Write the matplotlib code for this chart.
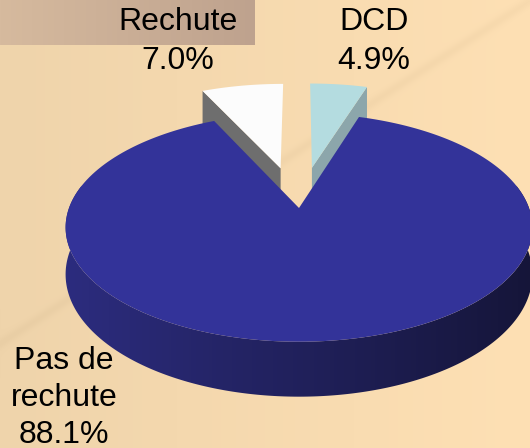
import numpy as np
import matplotlib.pyplot as plt
from matplotlib.patches import Polygon

# slices in counter-clockwise order, starting at the DCD slice
labels = ["DCD\n4.9%", "Rechute\n7.0%", "Pas de\nrechute\n88.1%"]
values = [4.9, 7.0, 88.1]
explode = [0.39, 0.39, 0.0]
top_colors = ["#B4DCE0", "#FCFCFC", "#333399"]
side_colors = ["#8CA6AB", "#6E6E6E", "#1E1E58"]

W, H = 530, 448
cx, cy = 299, 208
a, b, k = 230, 111, 0.17
depth = 45.6


def proj(u, v, h=0.0):
    d = 1 + k * v
    return cx + a * u / d, cy - b * v / d + depth * h / d


fig = plt.figure(figsize=(W / 100, H / 100), dpi=100)
ax = fig.add_axes([0, 0, 1, 1])
ax.set_xlim(0, W)
ax.set_ylim(H, 0)
ax.axis("off")

# background
xx, yy = np.meshgrid(np.arange(W), np.arange(H))
t = xx / W
bg = np.zeros((H, W, 3))
bg[..., 0] = 239 + 15 * t
bg[..., 1] = 212 + 12 * t
bg[..., 2] = 171 + 9 * t
band = (xx < 255) & (yy < 45)
s = xx[band] / 255
bg[band, 0] = 214 - 24 * s
bg[band, 1] = 186 - 24 * s
bg[band, 2] = 158 - 16 * s
dist = (xx - 530) * 110 + (yy - 0) * 170
dist = dist / np.hypot(110, 170)
streak = np.exp(-(dist / 5.0) ** 2) * 6
bg -= streak[..., None]
ax.imshow(bg.astype(np.uint8), extent=(0, W, H, 0), zorder=0)

# horizontal shading for the curved side of the pie
c1 = np.array([44, 44, 126]) / 255
c2 = np.array([21, 21, 56]) / 255
g = np.clip((np.arange(W) - 68) / 470, 0, 1)
shade = (c1[None, :] + (c2 - c1)[None, :] * g[:, None])[None, :, :]

frac = np.array(values) / sum(values)
start = 90 - frac[0] * 360
bounds = start + np.concatenate([[0], np.cumsum(frac) * 360])

for i in range(len(values)):
    t1, t2 = np.radians(bounds[i]), np.radians(bounds[i + 1])
    m = (t1 + t2) / 2
    ou, ov = explode[i] * np.cos(m), explode[i] * np.sin(m)
    z = 2 + i * 3

    # radial side faces that face the viewer
    for th, nrm in [(t1, t1 - np.pi / 2), (t2, t2 + np.pi / 2)]:
        if np.sin(nrm) < 0:
            p1 = proj(ou, ov)
            p2 = proj(ou + np.cos(th), ov + np.sin(th))
            p3 = proj(ou + np.cos(th), ov + np.sin(th), 1)
            p4 = proj(ou, ov, 1)
            ax.add_patch(Polygon([p1, p2, p3, p4], closed=True,
                                 facecolor=side_colors[i], edgecolor="none",
                                 zorder=z))

    # outer curved side
    lo = max(t1, np.radians(168))
    hi = min(t2, np.radians(372))
    if hi > lo:
        ths = np.linspace(lo, hi, 300)
        topc = [proj(ou + np.cos(q), ov + np.sin(q)) for q in ths]
        botc = [proj(ou + np.cos(q), ov + np.sin(q), 1) for q in ths[::-1]]
        side = Polygon(topc + botc, closed=True, facecolor="none",
                       edgecolor="none", zorder=z + 1)
        ax.add_patch(side)
        im = ax.imshow(shade, extent=(0, W, H, 0), zorder=z + 1,
                       interpolation="bilinear")
        im.set_clip_path(side)

    # top face
    ths = np.linspace(t1, t2, 200)
    pts = [proj(ou, ov)] + [proj(ou + np.cos(q), ov + np.sin(q)) for q in ths]
    ax.add_patch(Polygon(pts, facecolor=top_colors[i], edgecolor="none",
                         zorder=z + 2))

ax.set_xlim(0, W)
ax.set_ylim(H, 0)

font = dict(family="Liberation Sans", fontsize=23, color="black",
            ha="center", va="top", zorder=20)
ax.text(374, 7, labels[0], linespacing=1.38, **font)
ax.text(178, 7, labels[1], linespacing=1.38, **font)
ax.text(64, 346, labels[2], linespacing=1.31, **font)

fig.savefig("out.png", dpi=100)
